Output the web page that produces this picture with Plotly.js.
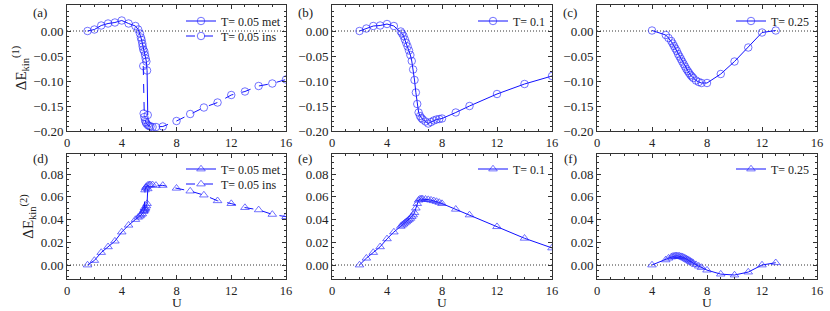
<!DOCTYPE html>
<html><head><meta charset="utf-8">
<script src="https://cdn.plot.ly/plotly-3.0.1.min.js"></script>
<style>html,body{margin:0;padding:0;background:#fff}#plot{width:830px;height:311px}</style>
</head><body><div id="plot"></div>
<script>
// ---- data ----
// T = 0.05 metallic / insulating, first-order term
const U_a_met = [1.5,2,2.5,3,3.5,4,4.5,5,5.2,5.33,5.4,5.45,5.5,5.53,5.57,5.65,5.7,5.75,5.8,5.85,5.9];
const E1_a_met = [0,0.003,0.011,0.015,0.017,0.021,0.015,0.010,0.003,-0.005,-0.013,-0.018,-0.025,-0.031,-0.037,-0.041,-0.048,-0.055,-0.061,-0.079,-0.168];
const U_a_ins = [5.57,5.6,5.65,5.7,5.75,5.8,5.9,6.0,6.1,6.25,6.5,7,8,9,10,11,12,13,14,15,16];
const E1_a_ins = [-0.07,-0.165,-0.172,-0.178,-0.182,-0.185,-0.188,-0.190,-0.191,-0.192,-0.192,-0.191,-0.180,-0.166,-0.153,-0.143,-0.128,-0.121,-0.110,-0.105,-0.097];
// T = 0.1
const U_b = [2,2.5,3,3.5,4,4.5,5,5.1,5.2,5.3,5.4,5.5,5.6,5.7,5.8,5.9,6.0,6.1,6.2,6.3,6.4,6.5,6.6,6.8,7.0,7.2,7.4,7.6,7.8,8,9,10,12,14,16];
const E1_b = [0,0.005,0.010,0.011,0.014,0.010,-0.001,-0.005,-0.010,-0.017,-0.024,-0.031,-0.039,-0.048,-0.060,-0.077,-0.098,-0.123,-0.146,-0.163,-0.170,-0.174,-0.177,-0.181,-0.185,-0.182,-0.179,-0.177,-0.176,-0.175,-0.163,-0.150,-0.126,-0.106,-0.090];
// T = 0.25
const U_c = [4,5,5.2,5.4,5.5,5.6,5.7,5.8,5.9,6.0,6.1,6.2,6.3,6.4,6.5,6.6,6.7,6.8,6.9,7.0,7.2,7.4,7.6,8,9,10,11,12,13];
const E1_c = [0.001,-0.008,-0.014,-0.020,-0.025,-0.030,-0.035,-0.040,-0.046,-0.051,-0.056,-0.061,-0.066,-0.071,-0.076,-0.080,-0.084,-0.088,-0.091,-0.094,-0.099,-0.102,-0.104,-0.104,-0.086,-0.061,-0.033,-0.003,0.001];
// second-order term
const U_d_met = [1.5,2,2.5,3,3.5,4,4.5,5,5.2,5.33,5.4,5.5,5.6,5.65,5.7,5.75,5.8,5.85,5.9];
const E2_d_met = [0,0.004,0.011,0.016,0.021,0.029,0.035,0.040,0.042,0.043,0.044,0.045,0.047,0.048,0.049,0.050,0.052,0.054,0.067];
const U_d_ins = [5.6,5.65,5.7,5.75,5.8,5.9,6.0,6.1,6.25,6.5,7,8,9,10,11,12,13,14,15,16];
const E2_d_ins = [0.048,0.050,0.066,0.068,0.069,0.070,0.0705,0.0705,0.0705,0.070,0.070,0.0675,0.065,0.0615,0.0565,0.054,0.0505,0.0485,0.0445,0.0425];
const E2_e = [0,0.006,0.011,0.016,0.023,0.029,0.034,0.035,0.036,0.037,0.038,0.039,0.040,0.041,0.0425,0.044,0.046,0.050,0.054,0.057,0.058,0.058,0.058,0.0578,0.0575,0.057,0.0565,0.0558,0.055,0.054,0.049,0.044,0.0337,0.0235,0.015];
const E2_f = [0,0.0045,0.006,0.007,0.0075,0.0078,0.008,0.008,0.0079,0.0077,0.0074,0.0071,0.0066,0.006,0.0054,0.0047,0.004,0.0032,0.0025,0.0017,0.0003,-0.001,-0.0022,-0.0045,-0.008,-0.0088,-0.0062,0,0.002];

const legendNames = ['T= 0.05 met','T= 0.05 ins','T= 0.1','T= 0.25'];
const panelLabels = ['(a)','(b)','(c)','(d)','(e)','(f)'];
const xTitle = 'U';
const xTicks = [0,4,8,12,16];
const yTicksTop = [-0.20,-0.15,-0.10,-0.05,0.00];
const yTicksBot = [0.00,0.02,0.04,0.06,0.08];

// ---- styling ----
const LC = '#1010ff';
const MC = 'rgba(40,40,255,0.65)';
const FONT = 'Liberation Serif';
function tr(x, y, xa, ya, name, sym, dash, leg){
  return {x:x, y:y, xaxis:xa, yaxis:ya, name:name, mode:'lines+markers', type:'scatter',
    line:{color:LC, width:1, dash:dash},
    marker:{symbol:sym, size:7.5, color:MC, line:{width:1, color:MC}},
    legend:leg, showlegend:true};
}
const data = [
  tr(U_a_met,E1_a_met,'x','y',legendNames[0],'circle-open','solid','legend'),
  tr(U_a_ins,E1_a_ins,'x','y',legendNames[1],'circle-open','dash','legend2'),
  tr(U_b,E1_b,'x2','y2',legendNames[2],'circle-open','solid','legend3'),
  tr(U_c,E1_c,'x3','y3',legendNames[3],'circle-open','solid','legend4'),
  tr(U_d_met,E2_d_met,'x4','y4',legendNames[0],'triangle-up-open','solid','legend5'),
  tr(U_d_ins,E2_d_ins,'x4','y4',legendNames[1],'triangle-up-open','dash','legend6'),
  tr(U_b,E2_e,'x5','y5',legendNames[2],'triangle-up-open','solid','legend7'),
  tr(U_c,E2_f,'x6','y6',legendNames[3],'triangle-up-open','solid','legend8'),
];

const W = 830, H = 311;
const xd = [[67/W,286/W],[332/W,552/W],[597/W,817/W]];
const ydTop = [1-131/H, 1-5/H], ydBot = [1-279/H, 1-154/H];
const TF = {family:FONT, size:13, color:'#222'};
const TFX = {family:FONT, size:12.5, color:'#222'};

function xaxis(dom, anchor){
  return {domain:dom, anchor:anchor, range:[0,16], tickvals:xTicks, ticktext:xTicks.map(String),
    ticks:'inside', ticklen:4, tickwidth:1, tickcolor:'#333', mirror:'ticks', showline:true, linecolor:'#333', linewidth:1,
    showgrid:false, zeroline:false, tickfont:TFX,
    minor:{ticks:'inside', dtick:1, ticklen:2, tickcolor:'#333', showgrid:false}};
}
function yaxis(dom, anchor, top, title){
  const a = {domain:dom, anchor:anchor, ticks:'inside', ticklen:4, tickwidth:1, tickcolor:'#333', mirror:'ticks',
    showline:true, linecolor:'#333', linewidth:1, showgrid:false, zeroline:false, tickfont:TF};
  if(top){ a.range=[-0.2,0.052]; a.tickvals=yTicksTop; a.ticktext=yTicksTop.map(v=>v.toFixed(2).replace('-','\u2212'));
    a.minor={ticks:'inside', dtick:0.01, ticklen:2, tickcolor:'#333', showgrid:false}; }
  else { a.range=[-0.0123,0.0976]; a.tickvals=yTicksBot; a.ticktext=yTicksBot.map(v=>v.toFixed(2));
    a.minor={ticks:'inside', dtick:0.005, tick0:0, ticklen:2, tickcolor:'#333', showgrid:false}; }
  if(title) a.title = {text:title, font:{family:FONT, size:15, color:'#222'}, standoff:3};
  return a;
}
const layout = {
  width:W, height:H, margin:{l:0,r:0,t:0,b:0}, paper_bgcolor:'#fff', plot_bgcolor:'#fff',
  font:{family:FONT},
  xaxis: xaxis(xd[0],'y'), xaxis2: xaxis(xd[1],'y2'), xaxis3: xaxis(xd[2],'y3'),
  xaxis4: xaxis(xd[0],'y4'), xaxis5: xaxis(xd[1],'y5'), xaxis6: xaxis(xd[2],'y6'),
  yaxis: yaxis(ydTop,'x',true,'ΔE<sub>kin</sub><sup>(1)</sup>'),
  yaxis2: yaxis(ydTop,'x2',true,null), yaxis3: yaxis(ydTop,'x3',true,null),
  yaxis4: yaxis(ydBot,'x4',false,'ΔE<sub>kin</sub><sup>(2)</sup>'),
  yaxis5: yaxis(ydBot,'x5',false,null), yaxis6: yaxis(ydBot,'x6',false,null),
  shapes: [], annotations: []
};
const lf = {family:FONT, size:12, color:'#222'};
// one legend box per entry: [left px, center-row px]
const legPos = [[181,21],[181,36],[473,21],[731,21],[181,169],[181,184],[473,169],[731,169]];
legPos.forEach((p,i)=>{
  const k = i===0 ? 'legend' : 'legend'+(i+1);
  layout[k] = {x:p[0]/W, y:1-p[1]/H, xanchor:'left', yanchor:'middle', bgcolor:'rgba(0,0,0,0)',
    font:lf, itemwidth:30, borderwidth:0};
});
const refs = [['x','y'],['x2','y2'],['x3','y3'],['x4','y4'],['x5','y5'],['x6','y6']];
refs.forEach((r,i)=>{
  layout.shapes.push({type:'line', xref:r[0]+' domain', yref:r[1], x0:0, x1:1, y0:0, y1:0,
    line:{color:'#333', width:1, dash:'1px,2px'}, layer:'below'});
});
const labPos = [[40,12],[305,12],[570,12],[40,158],[305,158],[570,158]];
panelLabels.forEach((t,i)=>{
  layout.annotations.push({text:t, xref:'paper', yref:'paper', x:labPos[i][0]/W, y:1-labPos[i][1]/H,
    xanchor:'center', yanchor:'middle', showarrow:false, font:{family:FONT, size:13, color:'#222'}});
});
['x4','x5','x6'].forEach(xa=>{
  layout.annotations.push({text:xTitle, xref:xa+' domain', yref:'paper', x:0.5, y:0,
    xanchor:'center', yanchor:'bottom', borderpad:0, showarrow:false, font:{family:FONT, size:13.5, color:'#222'}});
});
Plotly.newPlot('plot', data, layout, {staticPlot:true, displayModeBar:false});
</script></body></html>
